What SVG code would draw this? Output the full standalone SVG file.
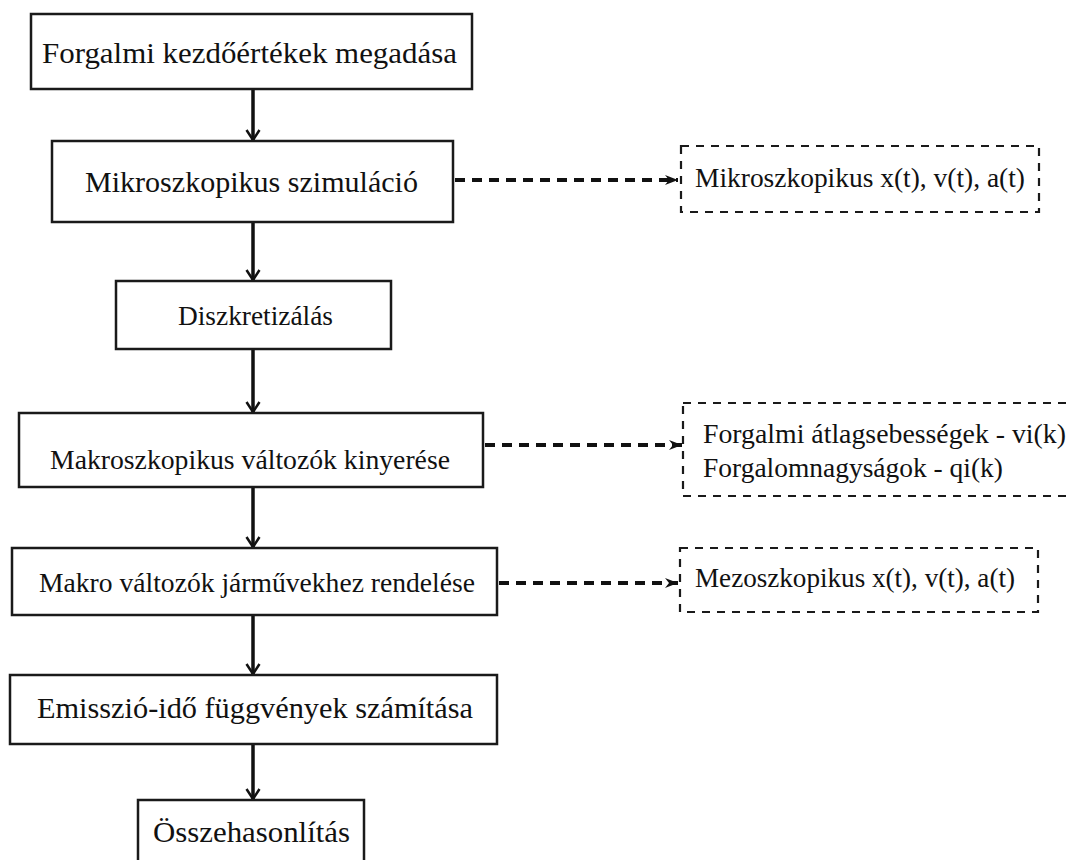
<svg xmlns="http://www.w3.org/2000/svg" width="1069" height="860" viewBox="0 0 1069 860">
<style>
.box{fill:#fff;stroke:#1a1a1a;stroke-width:2.5}
.dbox{fill:#fff;stroke:#1a1a1a;stroke-width:2.2;stroke-dasharray:8 7}
.arr{stroke:#111;stroke-width:3.5;fill:none}
.darr{stroke:#111;stroke-width:4;fill:none;stroke-dasharray:10 7}
.pal{font-family:"Liberation Serif","Times New Roman",serif;font-size:30px}
.tim{font-family:"Liberation Serif","Times New Roman",serif;font-size:28px}
</style>
<defs>
<marker id="ah" markerWidth="16" markerHeight="16" refX="14" refY="8" orient="auto" markerUnits="userSpaceOnUse" viewBox="0 0 16 16">
<path d="M4,1.5 L14,8 L4,14.5" fill="none" stroke="#111" stroke-width="2.5"/>
</marker>
<marker id="dh" markerWidth="14" markerHeight="12" refX="13" refY="6" orient="auto" markerUnits="userSpaceOnUse" viewBox="0 0 14 12">
<path d="M0,1 L13,6 L0,11 L4,6 z" fill="#111"/>
</marker>
</defs>
<g id="connectors">
<line class="arr" x1="253" y1="89" x2="253" y2="140" marker-end="url(#ah)"/>
<line class="arr" x1="253" y1="222" x2="253" y2="280" marker-end="url(#ah)"/>
<line class="arr" x1="253" y1="349" x2="253" y2="412" marker-end="url(#ah)"/>
<line class="arr" x1="253" y1="487" x2="253" y2="547" marker-end="url(#ah)"/>
<line class="arr" x1="253" y1="615" x2="253" y2="674" marker-end="url(#ah)"/>
<line class="arr" x1="253" y1="744" x2="253" y2="799" marker-end="url(#ah)"/>
<line class="darr" x1="455" y1="180" x2="678" y2="180" marker-end="url(#dh)"/>
<line class="darr" x1="485" y1="445" x2="682" y2="445" marker-end="url(#dh)"/>
<line class="darr" x1="499" y1="583" x2="678" y2="583" marker-end="url(#dh)"/>
</g>
<g fill="#111">
<g id="n1"><rect class="box" x="31" y="14" width="441" height="75"/><text class="pal" x="42" y="63" textLength="415" lengthAdjust="spacingAndGlyphs">Forgalmi kezdőértékek megadása</text></g>
<g id="n2"><rect class="box" x="52" y="141" width="401" height="81"/><text class="pal" x="85" y="192" textLength="333" lengthAdjust="spacingAndGlyphs">Mikroszkopikus szimuláció</text></g>
<g id="n3"><rect class="box" x="116" y="281" width="275" height="68"/><text class="tim" x="178" y="325" textLength="155" lengthAdjust="spacingAndGlyphs">Diszkretizálás</text></g>
<g id="n4"><rect class="box" x="19" y="413" width="464" height="74"/><text class="tim" x="50" y="469" textLength="400" lengthAdjust="spacingAndGlyphs">Makroszkopikus változók kinyerése</text></g>
<g id="n5"><rect class="box" x="12" y="548" width="485" height="67"/><text class="tim" x="39" y="592" textLength="436" lengthAdjust="spacingAndGlyphs">Makro változók járművekhez rendelése</text></g>
<g id="n6"><rect class="box" x="10" y="675" width="487" height="69"/><text class="pal" x="37" y="718" textLength="436" lengthAdjust="spacingAndGlyphs">Emisszió-idő függvények számítása</text></g>
<g id="n7"><rect class="box" x="138" y="800" width="226" height="75"/><text class="pal" x="153" y="842" textLength="197" lengthAdjust="spacingAndGlyphs">Összehasonlítás</text></g>
<g id="d1"><rect class="dbox" x="681" y="146" width="358" height="66"/><text class="tim" x="695" y="187" textLength="330" lengthAdjust="spacingAndGlyphs">Mikroszkopikus x(t), v(t), a(t)</text></g>
<g id="d2"><rect class="dbox" x="683" y="403" width="400" height="93"/><text class="tim" x="703" y="443" textLength="363" lengthAdjust="spacingAndGlyphs">Forgalmi átlagsebességek - vi(k)</text><text class="tim" x="703" y="477" textLength="300" lengthAdjust="spacingAndGlyphs">Forgalomnagyságok - qi(k)</text></g>
<g id="d3"><rect class="dbox" x="680" y="548" width="358" height="64"/><text class="tim" x="695" y="587" textLength="320" lengthAdjust="spacingAndGlyphs">Mezoszkopikus x(t), v(t), a(t)</text></g>
</g>
</svg>
